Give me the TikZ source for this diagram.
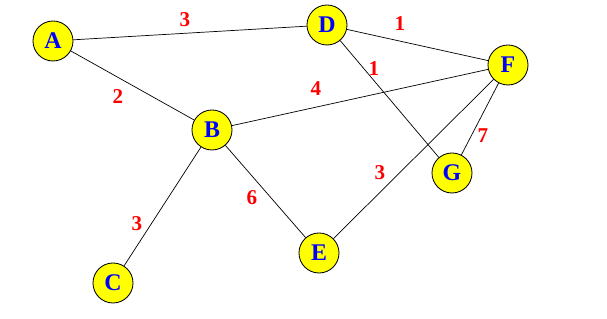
\documentclass[tikz,border=0pt]{standalone}
\usepackage{fontspec}
\setmainfont{Liberation Serif}
\usetikzlibrary{positioning}
\definecolor{NodeFill}{HTML}{FFFF00}
\definecolor{NodeText}{HTML}{0000FF}
\definecolor{WeightRed}{HTML}{FF0000}

\begin{document}
\begin{tikzpicture}[x=0.025cm, y=-0.025cm,
    vertex/.style={circle, draw=black, line width=0.6pt, fill=NodeFill,
      minimum size=1cm, inner sep=0pt, text=NodeText,
      font=\fontsize{17}{17}\selectfont\bfseries},
    wt/.style={text=WeightRed, inner sep=0pt,
      font=\fontsize{15}{15}\selectfont\bfseries},
    link/.style={draw=black, line width=0.5pt}]
  \useasboundingbox (0,0) rectangle (607,319);
  % vertices
  \node[vertex] (A) at (53,41) {A};
  \node[vertex] (D) at (327,25) {D};
  \node[vertex] (F) at (508,65) {F};
  \node[vertex] (B) at (212,130) {B};
  \node[vertex] (G) at (452,173) {G};
  \node[vertex] (E) at (319,253) {E};
  \node[vertex] (C) at (113,283) {C};
  % edges
  \draw[link] (A) -- (D);
  \draw[link] (A) -- (B);
  \draw[link] (D) -- (F);
  \draw[link] (D) -- (G);
  \draw[link] (B) -- (F);
  \draw[link] (F) -- (G);
  \draw[link] (F) -- (E);
  \draw[link] (B) -- (E);
  \draw[link] (B) -- (C);
  % weights
  \node[wt] (wAD) at (185,20) {3};
  \node[wt] (wAB) at (118,97) {2};
  \node[wt] (wDF) at (400,24) {1};
  \node[wt] (wDG) at (374,69) {1};
  \node[wt] (wBF) at (316,89) {4};
  \node[wt] (wFG) at (483,136) {7};
  \node[wt] (wEF) at (380,173) {3};
  \node[wt] (wBE) at (252,198) {6};
  \node[wt] (wBC) at (137,224) {3};
\end{tikzpicture}
\end{document}
